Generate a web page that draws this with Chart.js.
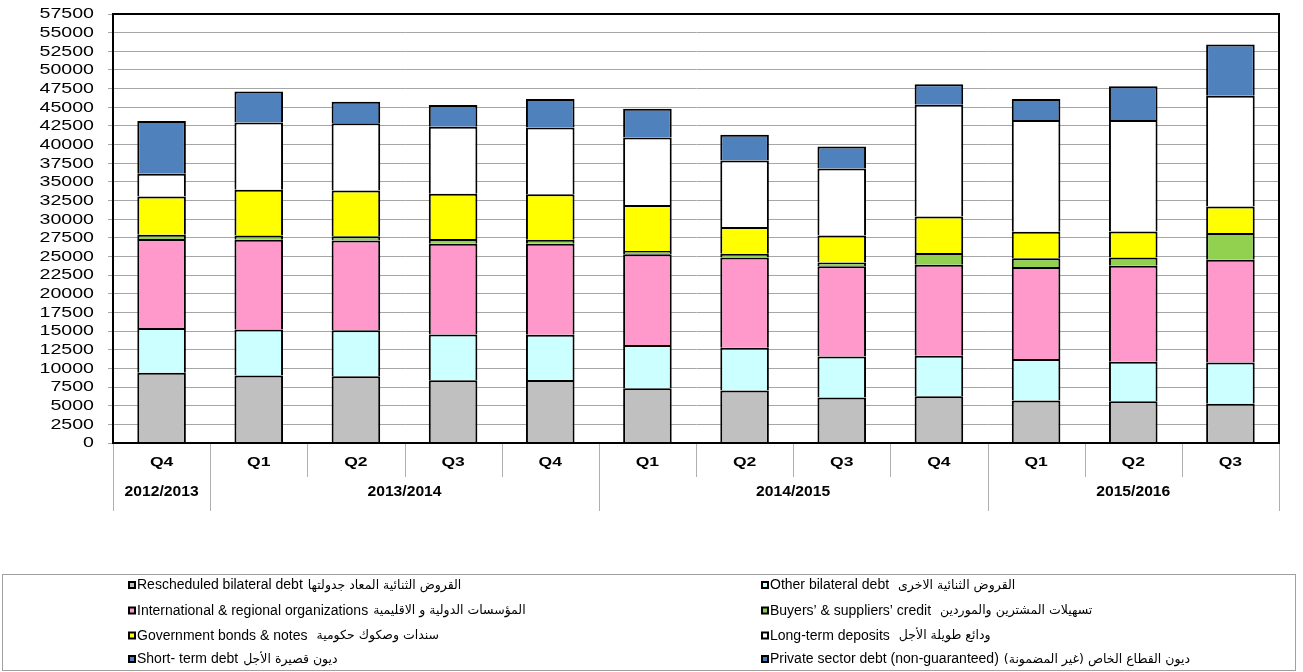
<!DOCTYPE html>
<html>
<head>
<meta charset="utf-8">
<script src="https://cdn.jsdelivr.net/npm/chart.js@4/dist/chart.umd.min.js"></script>
<style>
html,body{margin:0;padding:0;background:#fff;}
#c{display:block;}
</style>
</head>
<body>
<canvas id="c" width="1303" height="672"></canvas>
<script>
// ---- data ----
const categories = ['Q4','Q1','Q2','Q3','Q4','Q1','Q2','Q3','Q4','Q1','Q2','Q3'];
const yearGroups = ['2012/2013','2013/2014','2014/2015','2015/2016'];
const yearGroupSizes = [1,4,4,3];
const yTickValues = [0,2500,5000,7500,10000,12500,15000,17500,20000,22500,25000,27500,30000,32500,35000,37500,40000,42500,45000,47500,50000,52500,55000,57500];

const rescheduled    = [9400, 9050, 8950, 8400, 8450, 7350, 7050, 6100, 6250, 5700, 5600, 5250];
const otherBilateral = [6000, 6150, 6150, 6150, 6050, 5800, 5700, 5500, 5450, 5550, 5300, 5550];
const international  = [11950,12050,12050,12150,12200,12150,12100,12100,12200,12350,12850,13750];
const buyersCredit   = [550, 550, 550, 650, 550, 450, 500, 500, 1550, 1150, 1100, 3600];
const govBonds       = [5150, 6150, 6150, 6050, 6100, 6150, 3600, 3600, 4900, 3550, 3500, 3550];
const longTermDep    = [3050, 9000, 9000, 9000, 8950, 9050, 8900, 9000, 15000, 15000, 14950, 14850];
const shortTerm      = [7050, 4150, 2900, 2900, 3800, 3850, 3450, 2950, 2750, 2800, 4500, 6850];
const privateSector  = [0, 0, 0, 0, 0, 0, 0, 0, 0, 0, 0, 0];

const namesEn = ['Rescheduled bilateral debt','Other bilateral debt','International & regional organizations',
  'Buyers\u2019 & suppliers\u2019 credit','Government bonds & notes','Long-term deposits','Short- term debt',
  'Private sector debt (non-guaranteed)'];
const namesAr = ['القروض الثنائية المعاد جدولتها','القروض الثنائية الاخرى','المؤسسات الدولية و الاقليمية',
  'تسهيلات المشترين والموردين','سندات وصكوك حكومية','ودائع طويلة الأجل','ديون قصيرة الأجل',
  'ديون القطاع الخاص (غير المضمونة)'];

const colors = ['#C0C0C0','#CCFFFF','#FF99CC','#92D050','#FFFF00','#FFFFFF','#4F81BD','#4A7EBB'];
const seriesData = [rescheduled, otherBilateral, international, buyersCredit, govBonds, longTermDep, shortTerm, privateSector];

const datasets = seriesData.map((d,i)=>({
  label: namesEn[i] + ' ' + namesAr[i],
  data: d,
  backgroundColor: colors[i],
  borderColor: '#000',
  borderWidth: 2,
  barPercentage: 0.5,
  categoryPercentage: 1.0
}));

const overlay = {
  id:'overlay',
  afterDatasetsDraw(chart){
    const ctx = chart.ctx, a = chart.chartArea;
    ctx.save();
    ctx.strokeStyle = '#000'; ctx.lineWidth = 2;
    ctx.strokeRect(a.left, a.top, a.right-a.left, a.bottom-a.top);
    ctx.restore();
  },
  afterDraw(chart){
    const ctx = chart.ctx, a = chart.chartArea;
    const ys = chart.scales.y, xs = chart.scales.x;
    ctx.save();
    // y tick labels
    ctx.fillStyle = '#000';
    ctx.textBaseline = 'middle';
    ctx.textAlign = 'right';
    ctx.font = '14px "Liberation Sans", Arial, sans-serif';
    const sx = 1.4;
    yTickValues.forEach(v=>{
      const py = ys.getPixelForValue(v);
      ctx.save();
      ctx.translate(94, py+0.5);
      ctx.scale(sx,1);
      ctx.fillText(String(v), 0, 0);
      ctx.restore();
    });
    // x category separators & labels
    const n = categories.length;
    const step = (a.right - a.left)/n;
    ctx.strokeStyle = '#B0B0B0'; ctx.lineWidth = 1;
    const groupEdges = new Set();
    let acc = 0; groupEdges.add(0);
    yearGroupSizes.forEach(s=>{acc+=s; groupEdges.add(acc);});
    for(let i=0;i<=n;i++){
      const px = Math.round(a.left + i*step) + 0.5;
      ctx.beginPath();
      ctx.moveTo(px, a.bottom+1);
      ctx.lineTo(px, groupEdges.has(i) ? a.bottom+68 : a.bottom+34);
      ctx.stroke();
    }
    ctx.textAlign = 'center';
    ctx.font = 'bold 13px "Liberation Sans", Arial, sans-serif';
    categories.forEach((c,i)=>{
      const px = xs.getPixelForValue(i);
      ctx.save(); ctx.translate(px, a.bottom+19); ctx.scale(1.35,1);
      ctx.fillText(c,0,0); ctx.restore();
    });
    ctx.font = 'bold 14px "Liberation Sans", Arial, sans-serif';
    let start = 0;
    yearGroups.forEach((g,gi)=>{
      const end = start + yearGroupSizes[gi];
      const px = (a.left + start*step + a.left + end*step)/2;
      ctx.save(); ctx.translate(px, a.bottom+49); ctx.scale(1.12,1);
      ctx.fillText(g,0,0); ctx.restore();
      start = end;
    });
    // legend box
    ctx.strokeStyle = '#A0A0A0'; ctx.lineWidth = 1;
    ctx.strokeRect(2.5, 574.5, 1293, 96);
    const colX = [128, 761];
    const rowY = [585, 610.5, 635.5, 659];
    chart.data.datasets.forEach((ds,i)=>{
      const col = i % 2, row = Math.floor(i/2);
      const x = colX[col], y = rowY[row];
      ctx.fillStyle = '#000';
      ctx.fillRect(x, y-4, 8, 8);
      ctx.fillStyle = ds.backgroundColor;
      ctx.fillRect(x+2, y-2, 4, 4);
      ctx.fillStyle = '#000';
      ctx.textAlign = 'left'; ctx.direction = 'ltr';
      ctx.font = '14px "Liberation Sans", Arial, sans-serif';
      const en = namesEn[i];
      ctx.fillText(en, x+9, y+0.5);
      const w = ctx.measureText(en).width;
      ctx.font = '12.5px "DejaVu Sans", sans-serif';
      ctx.direction = 'rtl';
      ctx.textAlign = 'left';
      ctx.fillText(namesAr[i], x+9+w+(i===1||i===3||i===4||i===5?9:5), y+0.5);
      ctx.direction = 'ltr';
    });
    ctx.restore();
  }
};

new Chart(document.getElementById('c'), {
  type: 'bar',
  data: { labels: categories, datasets },
  options: {
    responsive: false,
    animation: false,
    layout: { padding: { top: 14, right: 24, left: 0, bottom: 0 } },
    plugins: { legend: { display: false }, tooltip: { enabled: false } },
    scales: {
      x: {
        stacked: true,
        grid: { display: false },
        border: { display: false },
        ticks: { display: false },
        afterFit(s){ s.height = 229; }
      },
      y: {
        stacked: true,
        min: 0, max: 57500,
        ticks: { display: false, stepSize: 2500 },
        grid: { color: '#A6A6A6', lineWidth: 1, tickLength: 5, drawTicks: true },
        border: { display: true, color: '#000', width: 2 },
        afterFit(s){ s.width = 113; }
      }
    }
  },
  plugins: [overlay]
});
</script>
</body>
</html>
